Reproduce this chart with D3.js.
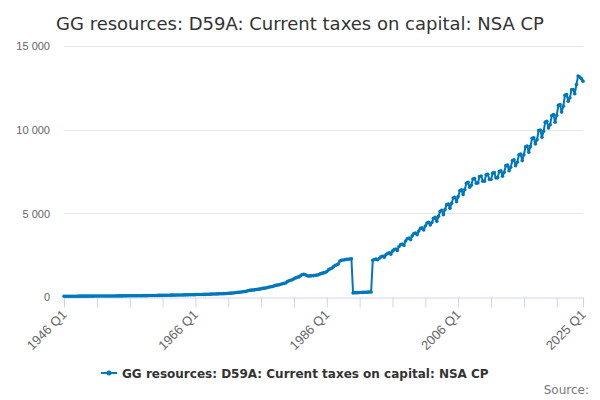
<!DOCTYPE html>
<html>
<head>
<meta charset="utf-8">
<script src="https://cdn.jsdelivr.net/npm/d3@7"></script>
<style>
  body { margin: 0; background: #fff; }
  svg { font-family: "DejaVu Sans", sans-serif; }
</style>
</head>
<body>
<div id="chart"></div>
<script>
const title = "GG resources: D59A: Current taxes on capital: NSA CP";
const seriesName = "GG resources: D59A: Current taxes on capital: NSA CP";
const firstYear = 1946;

// quarterly values, 1946 Q1 .. 2025 Q1
const values = [
  44, 45, 45, 46, 47, 47, 48, 48, 49, 50, 50, 51, 51, 52, 52, 53,
  54, 55, 55, 56, 56, 57, 57, 58, 59, 60, 60, 61, 62, 63, 63, 64,
  65, 66, 66, 67, 68, 70, 70, 71, 72, 74, 74, 75, 77, 78, 78, 79,
  80, 82, 82, 84, 86, 88, 88, 90, 92, 95, 95, 98, 100, 102, 103, 105,
  107, 110, 110, 113, 115, 118, 118, 121, 123, 126, 127, 129, 132, 135, 136, 138,
  141, 145, 146, 149, 151, 155, 157, 160, 164, 170, 172, 176, 180, 185, 188, 192,
  196, 200, 204, 210, 220, 228, 234, 240, 255, 268, 275, 285, 300, 318, 330, 340,
  375, 400, 410, 415, 425, 445, 460, 470, 495, 515, 530, 540, 570, 595, 610, 625,
  665, 695, 710, 730, 760, 795, 815, 840, 920, 970, 1000, 1030, 1090, 1140, 1180, 1200,
  1270, 1340, 1350, 1330, 1270, 1250, 1260, 1270, 1280, 1290, 1310, 1330, 1380, 1410, 1440, 1460,
  1520, 1620, 1680, 1720, 1800, 1880, 1920, 1970, 2150, 2200, 2210, 2230, 2250, 2260, 2270, 2280,
  240, 250, 255, 260, 265, 270, 275, 280, 285, 290, 295, 300,
  2200, 2240, 2270, 2230, 2320, 2400, 2430, 2380, 2520, 2600, 2640, 2560,
  2740, 2830, 2860, 2780, 3020, 3130, 3160, 3080, 3350, 3480, 3520, 3430,
  3650, 3790, 3820, 3720, 3940, 4100, 4130, 4010, 4240, 4420, 4460, 4300,
  4450, 4700, 4760, 4520, 4830, 5120, 5180, 4920, 5230, 5520, 5560, 5300,
  5600, 5920, 5960, 5690, 6000, 6350, 6400, 6120, 6420, 6800, 6860, 6560,
  6680, 7050, 7080, 6800, 6820, 7200, 7230, 6920, 6920, 7300, 7330, 7020,
  7020, 7400, 7440, 7120, 7120, 7500, 7540, 7220, 7450, 7850, 7880, 7550,
  7750, 8150, 8200, 7850, 8050, 8500, 8540, 8150, 8500, 8980, 9020, 8650,
  9000, 9480, 9520, 9150, 9400, 9950, 9980, 9550, 9900, 10450, 10500, 10100,
  10300, 10850, 10900, 10450, 10850, 11450, 11500, 11050, 11400, 12050, 12100, 11700,
  11900, 12380, 12400, 12150, 12700, 13200, 13150, 13050,
  12900
];

const yTicks = [0, 5000, 10000, 15000];
const labelEvery = 80;   // one label per 20 years
const tickEvery = 20;    // one tick per 5 years

const width = 600, height = 400;
const margin = { top: 46, right: 17, bottom: 103, left: 64 };

const data = values.map((v, i) => ({
  i: i,
  label: (firstYear + Math.floor(i / 4)) + " Q" + (i % 4 + 1),
  v: v
}));
const last = data.length - 1;

const svg = d3.select("#chart").append("svg")
  .attr("width", width)
  .attr("height", height);

const x = d3.scaleLinear()
  .domain([0, last])
  .range([margin.left, width - margin.right]);

const y = d3.scaleLinear()
  .domain([0, 15000])
  .range([height - margin.bottom, margin.top]);

const fmt = d => d3.format(",")(d).replace(/,/g, " ");

// grid
svg.append("g")
  .selectAll("line")
  .data(yTicks.filter(d => d > 0))
  .join("line")
  .attr("x1", x(0))
  .attr("x2", x(last))
  .attr("y1", d => Math.round(y(d)) + 0.5)
  .attr("y2", d => Math.round(y(d)) + 0.5)
  .attr("stroke", "#e6e6e6");

// Y axis
const yAxis = svg.append("g")
  .attr("transform", `translate(${x(0) - 14},0)`)
  .call(d3.axisLeft(y).tickValues(yTicks).tickFormat(fmt).tickSize(0));
yAxis.select(".domain").remove();
yAxis.selectAll("text")
  .attr("x", 0)
  .attr("dy", "0.35em")
  .style("font-size", "11px")
  .style("fill", "#666");

// X axis
let tickIdx = d3.range(0, last, tickEvery);
tickIdx.push(last);
const xAxis = svg.append("g")
  .attr("transform", `translate(0, ${Math.round(y(0)) + 0.5})`)
  .call(d3.axisBottom(x)
    .tickValues(tickIdx)
    .tickSize(10)
    .tickSizeOuter(0)
    .tickFormat(i => (i % labelEvery === 0 || i === last) ? data[i].label : ""));
xAxis.select(".domain").attr("stroke", "#ccd6eb");
xAxis.selectAll(".tick line").attr("stroke", "#ccd6eb");
xAxis.selectAll("text")
  .style("font-size", "13px")
  .style("fill", "#666")
  .attr("y", 0)
  .attr("dy", 0)
  .attr("transform", "translate(3,18)rotate(-45)")
  .style("text-anchor", "end");

// line
const line = d3.line()
  .x(d => x(d.i))
  .y(d => y(d.v));

svg.append("path")
  .datum(data)
  .attr("d", line)
  .attr("fill", "none")
  .attr("stroke", "#0077bb")
  .attr("stroke-width", 2)
  .attr("stroke-linejoin", "round");

svg.append("g")
  .selectAll("circle")
  .data(data)
  .join("circle")
  .attr("cx", d => x(d.i))
  .attr("cy", d => y(d.v))
  .attr("r", 1.8)
  .attr("fill", "#0077bb");

// title
svg.append("text")
  .attr("x", width / 2)
  .attr("y", 30)
  .attr("text-anchor", "middle")
  .style("font-size", "18px")
  .style("fill", "#333")
  .text(title);

// legend
const legend = svg.append("g")
  .attr("transform", "translate(101, 373)");
legend.append("line")
  .attr("x1", 0).attr("x2", 16)
  .attr("y1", 0).attr("y2", 0)
  .attr("stroke", "#0077bb")
  .attr("stroke-width", 2);
legend.append("circle")
  .attr("cx", 8).attr("cy", 0).attr("r", 2.5)
  .attr("fill", "#0077bb");
legend.append("text")
  .attr("x", 21)
  .attr("y", 4.5)
  .style("font-size", "12px")
  .style("font-weight", "bold")
  .style("fill", "#333")
  .text(seriesName);

// credits
svg.append("text")
  .attr("x", 589)
  .attr("y", 394)
  .attr("text-anchor", "end")
  .style("font-size", "12px")
  .style("fill", "#777")
  .text("Source:");
</script>
</body>
</html>
